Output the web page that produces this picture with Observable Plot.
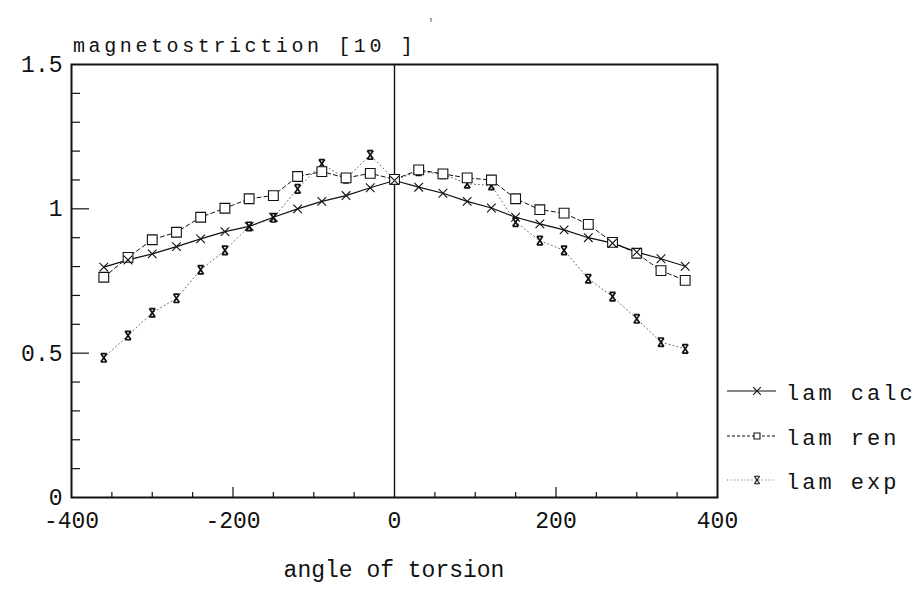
<!DOCTYPE html>
<html>
<head>
<meta charset="utf-8">
<script src="https://cdn.jsdelivr.net/npm/d3@7"></script>
<script src="https://cdn.jsdelivr.net/npm/@observablehq/plot@0.6"></script>
<style>
  html, body { margin: 0; padding: 0; background: #fff; }
  #chart svg { display: block; }
</style>
</head>
<body>
<div id="chart"></div>
<script>
// ---- data ----
const angles = [-360,-330,-300,-270,-240,-210,-180,-150,-120,-90,-60,-30,0,30,60,90,120,150,180,210,240,270,300,330,360];
const lamCalc = [0.798,0.823,0.844,0.869,0.896,0.921,0.939,0.971,1.000,1.026,1.046,1.073,1.098,1.075,1.054,1.026,1.003,0.971,0.948,0.927,0.900,0.881,0.850,0.827,0.801];
const lamRen  = [0.763,0.832,0.893,0.919,0.971,1.002,1.035,1.046,1.112,1.129,1.107,1.123,1.102,1.135,1.121,1.107,1.100,1.035,0.997,0.985,0.946,0.884,0.846,0.786,0.752];
const lamExp  = [0.484,0.561,0.640,0.690,0.789,0.856,0.939,0.969,1.069,1.156,1.104,1.187,1.100,1.130,1.120,1.087,1.081,0.954,0.890,0.856,0.758,0.696,0.619,0.538,0.515];
const seriesNames = ["lam calc", "lam ren", "lam exp"];
const xTickLabels = [-400, -200, 0, 200, 400];
const yTickLabels = [0, 0.5, 1, 1.5];
const xMinorTicks = [-350,-300,-250,-150,-100,-50,50,100,150,250,300,350];
const xMajorTicks = [-200, 200];
const yMinorTicks = [0.1,0.2,0.3,0.4,0.6,0.7,0.8,0.9,1.1,1.2,1.3,1.4];
const yMajorTicks = [0.5, 1];
const xTitle = "angle of torsion";
const yTitle = "magnetostriction [10 ]";

const calcData = angles.map((a, i) => ({x: a, y: lamCalc[i]}));
const renData  = angles.map((a, i) => ({x: a, y: lamRen[i]}));
const expData  = angles.map((a, i) => ({x: a, y: lamExp[i]}));

// ---- layout ----
const W = 921, H = 613;
const mT = 64, mR = 204, mB = 116, mL = 71;
const fw = W - mL - mR, fh = H - mT - mB;
const ink = "#111";
const FONT = "'Liberation Mono', 'DejaVu Sans Mono', monospace";

// hourglass-like marker used for the experimental values
const hourglass = {
  draw(ctx, size) {
    const r = Math.sqrt(size / Math.PI);
    const w = r * 0.7;
    ctx.moveTo(-w, -r); ctx.lineTo(w, -r);
    ctx.moveTo(-w, r);  ctx.lineTo(w, r);
    ctx.moveTo(-w, -r); ctx.lineTo(w, r);
    ctx.moveTo(w, -r);  ctx.lineTo(-w, r);
  }
};

const chart = Plot.plot({
  width: W, height: H,
  marginTop: mT, marginRight: mR, marginBottom: mB, marginLeft: mL,
  x: {domain: [-400, 400]},
  y: {domain: [0, 1.5]},
  style: {fontFamily: FONT, background: "#fff", color: ink},
  marks: [
    Plot.axisX(xTickLabels, {tickSize: 0, tickPadding: 14, fontSize: 23, label: null, tickFormat: d => String(d)}),
    Plot.axisY(yTickLabels, {tickSize: 0, tickPadding: 9, fontSize: 23, label: null, tickFormat: d => String(d)}),
    // inward ticks
    Plot.tickX(xMinorTicks, {x: d => d, insetTop: fh - 5, stroke: ink, strokeWidth: 1.2}),
    Plot.tickX(xMajorTicks, {x: d => d, insetTop: fh - 10, stroke: ink, strokeWidth: 1.2}),
    Plot.tickY(yMinorTicks, {y: d => d, insetRight: fw - 9, stroke: ink, strokeWidth: 1.2}),
    Plot.tickY(yMajorTicks, {y: d => d, insetRight: fw - 18, stroke: ink, strokeWidth: 1.2}),
    Plot.ruleX([0], {stroke: ink, strokeWidth: 1.4}),
    // series
    Plot.line(expData, {x: "x", y: "y", stroke: "#666", strokeWidth: 1, strokeDasharray: "1,3"}),
    Plot.line(renData, {x: "x", y: "y", stroke: ink, strokeWidth: 1, strokeDasharray: "4,3"}),
    Plot.line(calcData, {x: "x", y: "y", stroke: ink, strokeWidth: 1.2}),
    Plot.dot(expData, {x: "x", y: "y", symbol: hourglass, r: 4.2, fill: "none", stroke: ink, strokeWidth: 1.7}),
    Plot.dot(renData, {x: "x", y: "y", symbol: "square", r: 5.5, fill: "#fff", stroke: ink, strokeWidth: 1.1}),
    Plot.dot(calcData, {x: "x", y: "y", symbol: "times", r: 4, stroke: ink, strokeWidth: 1.1}),
    Plot.frame({stroke: ink, strokeWidth: 2})
  ]
});

document.getElementById("chart").appendChild(chart);
const svg = d3.select(chart);

svg.selectAll('[aria-label="x-axis tick label"] text, [aria-label="y-axis tick label"] text')
  .attr("fill", ink);

// axis titles
svg.append("text")
  .attr("x", mL + fw / 2).attr("y", 577)
  .attr("text-anchor", "middle")
  .attr("font-family", FONT).attr("font-size", 23)
  .attr("fill", ink).text(xTitle);

svg.append("text")
  .attr("x", 73).attr("y", 52)
  .attr("text-anchor", "start")
  .attr("font-family", FONT).attr("font-size", 20)
  .style("letter-spacing", "3.6px")
  .attr("fill", ink).text(yTitle);

svg.append("text")
  .attr("x", 427).attr("y", 27)
  .attr("text-anchor", "start")
  .attr("font-family", FONT).attr("font-size", 13)
  .attr("fill", "#777").text("'");

// legend
const legendRows = [
  {name: seriesNames[0], y: 391, dash: null, stroke: ink, sym: d3.symbol(d3.symbolTimes, 40), fill: "none"},
  {name: seriesNames[1], y: 436, dash: "3,2", stroke: ink, sym: d3.symbol(d3.symbolSquare, 36), fill: "#fff"},
  {name: seriesNames[2], y: 480, dash: "1,2.5", stroke: "#666", sym: d3.symbol(hourglass, 45), fill: "none"}
];
const lg = svg.append("g").attr("aria-label", "legend");
legendRows.forEach(row => {
  const g = lg.append("g");
  g.append("line")
    .attr("x1", 727).attr("x2", 776).attr("y1", row.y).attr("y2", row.y)
    .attr("stroke", row.stroke).attr("stroke-width", 1)
    .attr("stroke-dasharray", row.dash);
  g.append("path")
    .attr("d", row.sym())
    .attr("transform", `translate(757,${row.y})`)
    .attr("fill", row.fill)
    .attr("stroke", ink).attr("stroke-width", 1.1);
  g.append("text")
    .attr("x", 786).attr("y", row.y + 9)
    .attr("text-anchor", "start")
    .attr("font-family", FONT).attr("font-size", 22)
    .style("letter-spacing", "3px")
    .attr("fill", ink).text(row.name);
});
</script>
</body>
</html>
